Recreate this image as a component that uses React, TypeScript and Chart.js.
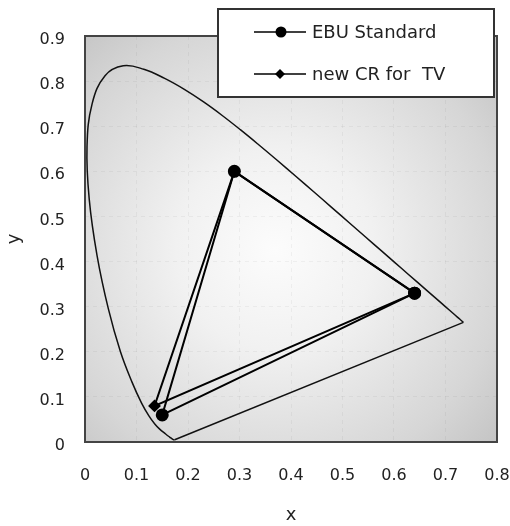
import React, { useEffect, useRef } from "react";
import { Chart, registerables } from "chart.js";

Chart.register(...registerables);

// CIE 1931 spectral locus (chromaticity x, y), 380 nm -> 700 nm
const locusX = [0.1741, 0.1733, 0.1714, 0.1644, 0.1566, 0.144, 0.1355, 0.1241, 0.1096, 0.0913, 0.0687, 0.0454, 0.0235, 0.0082, 0.0039, 0.0139, 0.0389, 0.0743, 0.1142, 0.1547, 0.1929, 0.2296, 0.2658, 0.3016, 0.3373, 0.3731, 0.4087, 0.4441, 0.4788, 0.5125, 0.5448, 0.5752, 0.6029, 0.627, 0.6658, 0.6915, 0.7079, 0.719, 0.726, 0.73, 0.7334, 0.7347];
const locusY = [0.005, 0.0048, 0.0051, 0.0109, 0.0177, 0.0297, 0.0399, 0.0578, 0.0868, 0.1327, 0.2007, 0.295, 0.4127, 0.5384, 0.6548, 0.7502, 0.812, 0.8338, 0.8262, 0.8059, 0.7816, 0.7543, 0.7243, 0.6923, 0.6589, 0.6245, 0.5896, 0.5547, 0.5202, 0.4866, 0.4544, 0.4242, 0.3965, 0.3725, 0.334, 0.3083, 0.292, 0.2809, 0.274, 0.27, 0.2666, 0.2653];

// line of purples (700 nm back to 380 nm)
const purpleX = [0.7347, 0.1741];
const purpleY = [0.2653, 0.005];

// EBU Standard primaries (R, G, B, back to R)
const ebuX = [0.64, 0.29, 0.15, 0.64];
const ebuY = [0.33, 0.6, 0.06, 0.33];

// new CR for TV primaries (R, G, B, back to R)
const crX = [0.64, 0.29, 0.135, 0.64];
const crY = [0.33, 0.6, 0.08, 0.33];

const seriesNames = ["EBU Standard", "new CR for  TV"];
const xTicks = [0, 0.1, 0.2, 0.3, 0.4, 0.5, 0.6, 0.7, 0.8];
const yTicks = [0, 0.1, 0.2, 0.3, 0.4, 0.5, 0.6, 0.7, 0.8, 0.9];

const toPts = (xs: number[], ys: number[]) => xs.map((x, i) => ({ x, y: ys[i] }));
const fmt = (v: number) => String(Number(v.toFixed(1)));

const FONT = "'DejaVu Sans', sans-serif";

const bgPlugin = {
  id: "bgPlugin",
  beforeDraw(chart: any) {
    const { ctx, chartArea: a } = chart;
    ctx.save();
    const g = ctx.createRadialGradient(275, 250, 0, 275, 250, 330);
    g.addColorStop(0, "#fcfcfc");
    g.addColorStop(0.3, "#f1f1f1");
    g.addColorStop(0.7, "#d6d6d6");
    g.addColorStop(1, "#bababa");
    ctx.fillStyle = g;
    ctx.fillRect(a.left, a.top, a.right - a.left, a.bottom - a.top);
    ctx.restore();
  },
  afterDatasetsDraw(chart: any) {
    const { ctx, chartArea: a } = chart;
    ctx.save();
    ctx.strokeStyle = "#444";
    ctx.lineWidth = 2;
    ctx.strokeRect(a.left, a.top, a.right - a.left, a.bottom - a.top);
    ctx.restore();
  },
  afterDraw(chart: any) {
    const { ctx } = chart;
    ctx.save();
    // legend box
    ctx.fillStyle = "#ffffff";
    ctx.fillRect(218, 9, 276, 88);
    ctx.strokeStyle = "#333";
    ctx.lineWidth = 2;
    ctx.strokeRect(218, 9, 276, 88);
    const items = [
      { y: 32, marker: "circle", r: 5.5 },
      { y: 74, marker: "diamond", r: 5 },
    ];
    items.forEach((it, i) => {
      ctx.strokeStyle = "#000";
      ctx.lineWidth = 1.5;
      ctx.beginPath();
      ctx.moveTo(254, it.y);
      ctx.lineTo(306, it.y);
      ctx.stroke();
      ctx.fillStyle = "#000";
      ctx.beginPath();
      if (it.marker === "circle") {
        ctx.arc(281, it.y, it.r, 0, Math.PI * 2);
      } else {
        ctx.moveTo(280, it.y - it.r);
        ctx.lineTo(280 + it.r, it.y);
        ctx.lineTo(280, it.y + it.r);
        ctx.lineTo(280 - it.r, it.y);
        ctx.closePath();
      }
      ctx.fill();
      ctx.fillStyle = "#222";
      ctx.font = `18px ${FONT}`;
      ctx.textAlign = "left";
      ctx.textBaseline = "middle";
      ctx.fillText(seriesNames[i], 312, it.y + 1);
    });
    ctx.restore();
  },
};

export default function App() {
  const ref = useRef<HTMLCanvasElement | null>(null);

  useEffect(() => {
    if (!ref.current) return;
    const tickFont = { family: FONT, size: 16 };
    const titleFont = { family: FONT, size: 18 };
    const chart = new Chart(ref.current, {
      type: "scatter",
      data: {
        datasets: [
          {
            label: "locus",
            data: toPts(locusX, locusY),
            showLine: true,
            borderColor: "#111",
            borderWidth: 1.5,
            pointRadius: 0,
            tension: 0.4,
          },
          {
            label: "purples",
            data: toPts(purpleX, purpleY),
            showLine: true,
            borderColor: "#111",
            borderWidth: 1.5,
            pointRadius: 0,
            tension: 0,
          },
          {
            label: seriesNames[1],
            data: toPts(crX, crY),
            showLine: true,
            borderColor: "#000",
            borderWidth: 2,
            pointStyle: "rectRot",
            pointRadius: 5,
            backgroundColor: "#000",
            pointBorderColor: "#000",
          },
          {
            label: seriesNames[0],
            data: toPts(ebuX, ebuY),
            showLine: true,
            borderColor: "#000",
            borderWidth: 2,
            pointStyle: "circle",
            pointRadius: 5.5,
            backgroundColor: "#000",
            pointBorderColor: "#000",
          },
        ],
      },
      options: {
        animation: false,
        responsive: false,
        maintainAspectRatio: false,
        layout: { padding: { left: 0, top: 36, right: 13, bottom: 0 } },
        plugins: { legend: { display: false }, tooltip: { enabled: false } },
        scales: {
          x: {
            type: "linear",
            min: xTicks[0],
            max: xTicks[xTicks.length - 1],
            afterBuildTicks: (s: any) => {
              s.ticks = xTicks.map((v) => ({ value: v }));
            },
            afterFit: (s: any) => {
              s.height = 84;
            },
            ticks: {
              padding: 0,
              maxRotation: 0,
              autoSkip: false,
              font: tickFont,
              color: "#222",
              callback: (v: any) => fmt(Number(v)),
            },
            grid: {
              color: "rgba(0,0,0,0.045)",
              drawTicks: true,
              tickLength: 24,
              tickColor: "rgba(0,0,0,0)",
            },
            border: { display: false, dash: [4, 4] },
            title: { display: true, text: "x", font: titleFont, color: "#222", padding: { top: 0, bottom: 0 } },
          },
          y: {
            type: "linear",
            min: yTicks[0],
            max: yTicks[yTicks.length - 1],
            afterBuildTicks: (s: any) => {
              s.ticks = yTicks.map((v) => ({ value: v }));
            },
            afterFit: (s: any) => {
              s.width = 85;
            },
            ticks: {
              padding: 20,
              labelOffset: 4,
              autoSkip: false,
              font: tickFont,
              color: "#222",
              callback: (v: any) => fmt(Number(v)),
            },
            grid: { color: "rgba(0,0,0,0.045)", drawTicks: false },
            border: { display: false, dash: [4, 4] },
            title: { display: true, text: "y", font: titleFont, color: "#222", padding: { top: 4, bottom: 0 } },
          },
        },
      },
      plugins: [bgPlugin],
    } as any);
    return () => chart.destroy();
  }, []);

  return (
    <div style={{ position: "absolute", left: 0, top: 0, width: 510, height: 526 }}>
      <canvas ref={ref} width={510} height={526} />
    </div>
  );
}
